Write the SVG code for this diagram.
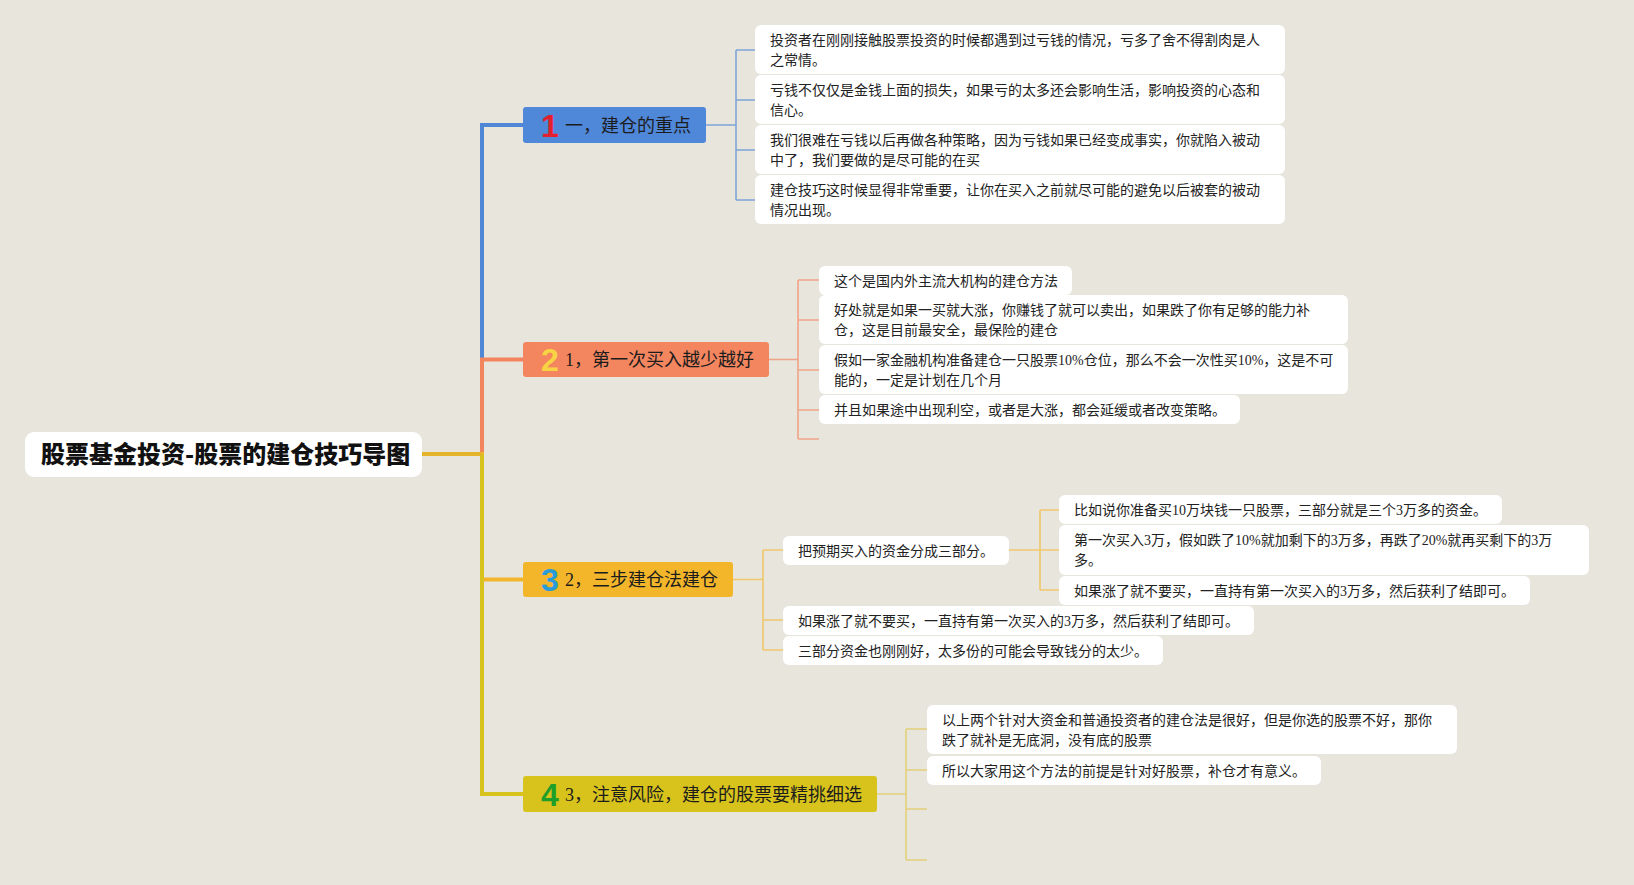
<svg xmlns="http://www.w3.org/2000/svg" width="1634" height="885" viewBox="0 0 1634 885">
<style>
.bg{fill:#e8e5dd}
.leaf{fill:#ffffff}
.lt{font-family:"Liberation Serif","Noto Sans CJK SC",serif;font-size:14px;fill:#222}
.bt{font-family:"Liberation Serif","Noto Sans CJK SC",serif;font-size:18px;fill:#1c1c1c}
.num{font-family:"Liberation Sans","DejaVu Sans",sans-serif;font-size:32px;font-weight:bold;text-anchor:middle}
.rt{font-family:"Noto Sans CJK SC",sans-serif;font-size:24px;font-weight:900;fill:#111}
.trunk{fill:none;stroke-width:4}
.sub{fill:none;stroke-width:1.6}
</style>
<rect class="bg" x="0" y="0" width="1634" height="885"/>

<g id="connectors">
  <path class="trunk" stroke="#4f86d6" d="M422,454 H482 V125 H523"/>
  <path class="trunk" stroke="#f2855e" d="M422,454 H482 V359.5 H523"/>
  <path class="trunk" stroke="#f2b52b" d="M422,454 H482 V579.5 H523"/>
  <path class="trunk" stroke="#d8c31e" d="M482,454 V794 H523"/>
  <path class="trunk" stroke="#e4b52a" d="M422,454 H482"/>
  <path class="sub" stroke="#7ea5d8" d="M706,125 H736 M736,50 V200 M736,50 H755 M736,100 H755 M736,150 H755 M736,200 H755"/>
  <path class="sub" stroke="#efa487" d="M769,359.5 H798 M798,280 V439 M798,280 H819 M798,320 H819 M798,370 H819 M798,410 H819 M798,439 H819"/>
  <path class="sub" stroke="#efc66c" d="M733,579.5 H763 M763,550 V650 M763,550 H783 M763,620 H783 M763,650 H783"/>
  <path class="sub" stroke="#efc66c" d="M1009,550 H1040 M1040,510 V590 M1040,510 H1059 M1040,550 H1059 M1040,590 H1059"/>
  <path class="sub" stroke="#e2d17a" d="M877,794 H906 M906,729 V860 M906,729 H927 M906,770 H927 M906,809 H927 M906,860 H927"/>
</g>

<g id="root">
  <rect x="25" y="432" width="397" height="45" rx="9" fill="#ffffff"/>
  <text class="rt" x="41" y="463">股票基金投资-股票的建仓技巧导图</text>
</g>

<g id="branch1">
  <rect x="523" y="107" width="183" height="36" rx="3" fill="#4f87d9"/>
  <text class="num" x="550" y="136.5" fill="#e41f2d">1</text>
  <text class="bt" x="565" y="131.5">一，建仓的重点</text>
</g>
<g id="branch2">
  <rect x="523" y="342" width="246" height="35" rx="3" fill="#f3865f"/>
  <text class="num" x="550" y="371" fill="#f8d444">2</text>
  <text class="bt" x="565" y="366">1，第一次买入越少越好</text>
</g>
<g id="branch3">
  <rect x="523" y="562" width="210" height="35" rx="3" fill="#f3b62b"/>
  <text class="num" x="550" y="591" fill="#2a9bd9">3</text>
  <text class="bt" x="565" y="586">2，三步建仓法建仓</text>
</g>
<g id="branch4">
  <rect x="523" y="776" width="354" height="36" rx="3" fill="#d7c31c"/>
  <text class="num" x="550" y="805.5" fill="#1f9e2a">4</text>
  <text class="bt" x="565" y="800.5">3，注意风险，建仓的股票要精挑细选</text>
</g>

<g id="b1a">
  <rect class="leaf" x="755" y="25" width="530" height="49" rx="6"/>
  <text class="lt" x="770" y="45">投资者在刚刚接触股票投资的时候都遇到过亏钱的情况，亏多了舍不得割肉是人</text>
  <text class="lt" x="770" y="65">之常情。</text>
</g>
<g id="b1b">
  <rect class="leaf" x="755" y="75" width="530" height="49" rx="6"/>
  <text class="lt" x="770" y="95">亏钱不仅仅是金钱上面的损失，如果亏的太多还会影响生活，影响投资的心态和</text>
  <text class="lt" x="770" y="115">信心。</text>
</g>
<g id="b1c">
  <rect class="leaf" x="755" y="125" width="530" height="49" rx="6"/>
  <text class="lt" x="770" y="145">我们很难在亏钱以后再做各种策略，因为亏钱如果已经变成事实，你就陷入被动</text>
  <text class="lt" x="770" y="165">中了，我们要做的是尽可能的在买</text>
</g>
<g id="b1d">
  <rect class="leaf" x="755" y="175" width="530" height="49" rx="6"/>
  <text class="lt" x="770" y="195">建仓技巧这时候显得非常重要，让你在买入之前就尽可能的避免以后被套的被动</text>
  <text class="lt" x="770" y="215">情况出现。</text>
</g>

<g id="b2a">
  <rect class="leaf" x="819" y="266" width="253" height="29" rx="6"/>
  <text class="lt" x="834" y="285.5">这个是国内外主流大机构的建仓方法</text>
</g>
<g id="b2b">
  <rect class="leaf" x="819" y="295" width="529" height="49" rx="6"/>
  <text class="lt" x="834" y="315">好处就是如果一买就大涨，你赚钱了就可以卖出，如果跌了你有足够的能力补</text>
  <text class="lt" x="834" y="335">仓，这是目前最安全，最保险的建仓</text>
</g>
<g id="b2c">
  <rect class="leaf" x="819" y="345" width="529" height="49" rx="6"/>
  <text class="lt" x="834" y="365">假如一家金融机构准备建仓一只股票10%仓位，那么不会一次性买10%，这是不可</text>
  <text class="lt" x="834" y="385">能的，一定是计划在几个月</text>
</g>
<g id="b2d">
  <rect class="leaf" x="819" y="395" width="421" height="29" rx="6"/>
  <text class="lt" x="834" y="414.5">并且如果途中出现利空，或者是大涨，都会延缓或者改变策略。</text>
</g>

<g id="b3a">
  <rect class="leaf" x="783" y="536" width="226" height="29" rx="6"/>
  <text class="lt" x="798" y="555.5">把预期买入的资金分成三部分。</text>
</g>
<g id="b3a1">
  <rect class="leaf" x="1059" y="495" width="443" height="29" rx="6"/>
  <text class="lt" x="1074" y="514.5">比如说你准备买10万块钱一只股票，三部分就是三个3万多的资金。</text>
</g>
<g id="b3a2">
  <rect class="leaf" x="1059" y="525" width="530" height="50" rx="6"/>
  <text class="lt" x="1074" y="545">第一次买入3万，假如跌了10%就加剩下的3万多，再跌了20%就再买剩下的3万</text>
  <text class="lt" x="1074" y="565">多。</text>
</g>
<g id="b3a3">
  <rect class="leaf" x="1059" y="576" width="471" height="29" rx="6"/>
  <text class="lt" x="1074" y="595.5">如果涨了就不要买，一直持有第一次买入的3万多，然后获利了结即可。</text>
</g>
<g id="b3b">
  <rect class="leaf" x="783" y="606" width="471" height="29" rx="6"/>
  <text class="lt" x="798" y="625.5">如果涨了就不要买，一直持有第一次买入的3万多，然后获利了结即可。</text>
</g>
<g id="b3c">
  <rect class="leaf" x="783" y="636" width="380" height="29" rx="6"/>
  <text class="lt" x="798" y="655.5">三部分资金也刚刚好，太多份的可能会导致钱分的太少。</text>
</g>

<g id="b4a">
  <rect class="leaf" x="927" y="705" width="530" height="49" rx="6"/>
  <text class="lt" x="942" y="725">以上两个针对大资金和普通投资者的建仓法是很好，但是你选的股票不好，那你</text>
  <text class="lt" x="942" y="745">跌了就补是无底洞，没有底的股票</text>
</g>
<g id="b4b">
  <rect class="leaf" x="927" y="756" width="394" height="29" rx="6"/>
  <text class="lt" x="942" y="775.5">所以大家用这个方法的前提是针对好股票，补仓才有意义。</text>
</g>
</svg>
